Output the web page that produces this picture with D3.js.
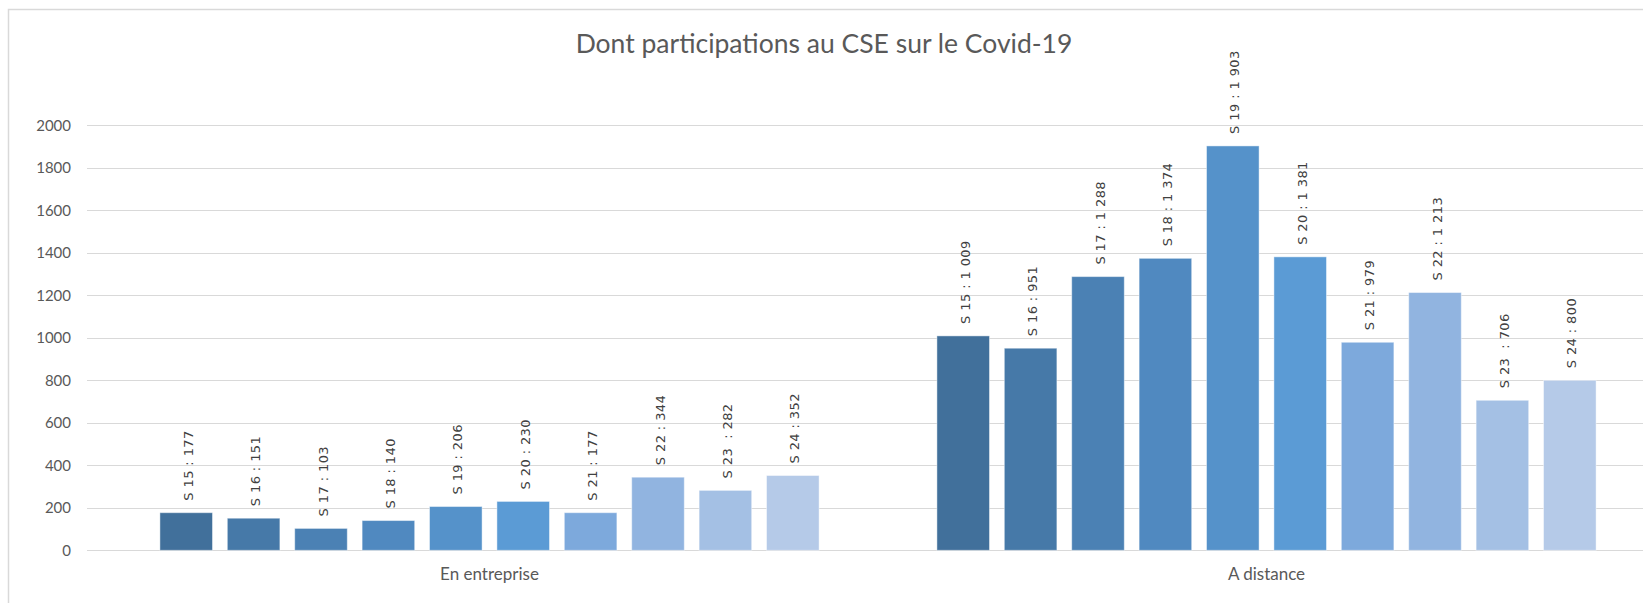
<!DOCTYPE html>
<html>
<head>
<meta charset="utf-8">
<script src="https://cdn.jsdelivr.net/npm/d3@7"></script>
<style>
  body { margin: 0; background: #fff; }
  svg { display: block; }
</style>
</head>
<body>
<div id="chart"></div>
<script>
var categories = ["En entreprise", "A distance"];
var seriesNames = ["S 15", "S 16", "S 17", "S 18", "S 19", "S 20", "S 21", "S 22", "S 23 ", "S 24"];
var enEntreprise = [177, 151, 103, 140, 206, 230, 177, 344, 282, 352];
var aDistance = [1009, 951, 1288, 1374, 1903, 1381, 979, 1213, 706, 800];
var yTicks = [0, 200, 400, 600, 800, 1000, 1200, 1400, 1600, 1800, 2000];
var seriesColors = ["#41709b", "#4679a8", "#4b81b4", "#5089c0", "#5592ca",
                    "#5b9bd5", "#7da9dc", "#91b4e0", "#a4c0e4", "#b5cae8"];

var values = [enEntreprise, aDistance];

var W = 1643, H = 603;
var gridLeft = 87, gridRight = 1643;

var fr = d3.formatLocale({decimal: ",", thousands: " ", grouping: [3], currency: ["", ""]});
var fmt = fr.format(",");

var svg = d3.select("#chart").append("svg")
  .attr("width", W)
  .attr("height", H);

// chart frame
svg.append("rect")
  .attr("x", 8.5).attr("y", 9.5)
  .attr("width", W + 20).attr("height", H + 20)
  .attr("fill", "#fff")
  .attr("stroke", "#d9d9d9")
  .attr("stroke-width", 1.5);

var y = d3.scaleLinear()
  .domain([0, 2000])
  .range([550.3, 125.3]);

var x0 = d3.scaleBand()
  .domain(categories)
  .range([101, 1655]);

var x1 = d3.scaleBand()
  .domain(seriesNames)
  .range([0, 674])
  .paddingInner(0.22)
  .paddingOuter(0.11);

// gridlines
svg.append("g")
  .selectAll("line")
  .data(yTicks)
  .enter().append("line")
  .attr("x1", gridLeft).attr("x2", gridRight)
  .attr("y1", function(d) { return Math.round(y(d)) + 0.5; })
  .attr("y2", function(d) { return Math.round(y(d)) + 0.5; })
  .attr("stroke", "#d9d9d9")
  .attr("stroke-width", 1);

// y tick labels
svg.append("g")
  .selectAll("text")
  .data(yTicks)
  .enter().append("text")
  .attr("x", 71)
  .attr("y", function(d) { return y(d); })
  .attr("dy", "0.35em")
  .attr("text-anchor", "end")
  .style("font-family", "Lato, 'Open Sans', sans-serif")
  .style("font-size", "15px")
  .style("fill", "#595959")
  .text(function(d) { return d; });

// bars
var groups = svg.selectAll(".cat")
  .data(categories)
  .enter().append("g")
  .attr("class", "cat")
  .attr("transform", function(d) {
    return "translate(" + (x0(d) + x0.bandwidth() / 2 - 337) + ",0)";
  });

groups.selectAll("rect")
  .data(function(d, i) {
    return seriesNames.map(function(s, j) { return {s: s, v: values[i][j], j: j}; });
  })
  .enter().append("rect")
  .attr("x", function(d) { return x1(d.s); })
  .attr("width", x1.bandwidth())
  .attr("y", function(d) { return y(d.v); })
  .attr("height", function(d) { return y(0) - y(d.v); })
  .attr("fill", function(d) { return seriesColors[d.j]; })
  .attr("stroke", "rgba(255,255,255,0.45)")
  .attr("stroke-width", 1);

// data labels
groups.selectAll("text")
  .data(function(d, i) {
    return seriesNames.map(function(s, j) { return {s: s, v: values[i][j], j: j}; });
  })
  .enter().append("text")
  .attr("transform", function(d) {
    var cx = x1(d.s) + x1.bandwidth() / 2 + 2;
    return "translate(" + cx + "," + (y(d.v) - 12) + ") rotate(-90)";
  })
  .attr("dy", "0.35em")
  .attr("text-anchor", "start")
  .style("font-family", "'DejaVu Sans', sans-serif")
  .style("font-size", "13px")
  .style("letter-spacing", "0.4px")
  .style("white-space", "pre")
  .style("fill", "#404040")
  .text(function(d) { return d.s + " : " + fmt(d.v); });

// category labels
svg.append("g")
  .selectAll("text")
  .data(categories)
  .enter().append("text")
  .attr("x", function(d) { return x0(d) + x0.bandwidth() / 2; })
  .attr("y", 580)
  .attr("text-anchor", "middle")
  .style("font-family", "Lato, 'Open Sans', sans-serif")
  .style("font-size", "17px")
  .style("fill", "#595959")
  .text(function(d) { return d; });

// title
svg.append("text")
  .attr("x", 824)
  .attr("y", 53)
  .attr("text-anchor", "middle")
  .style("font-family", "Lato, 'Open Sans', sans-serif")
  .style("font-size", "26.5px")
  .style("fill", "#595959")
  .text("Dont participations au CSE sur le Covid-19");
</script>
</body>
</html>
